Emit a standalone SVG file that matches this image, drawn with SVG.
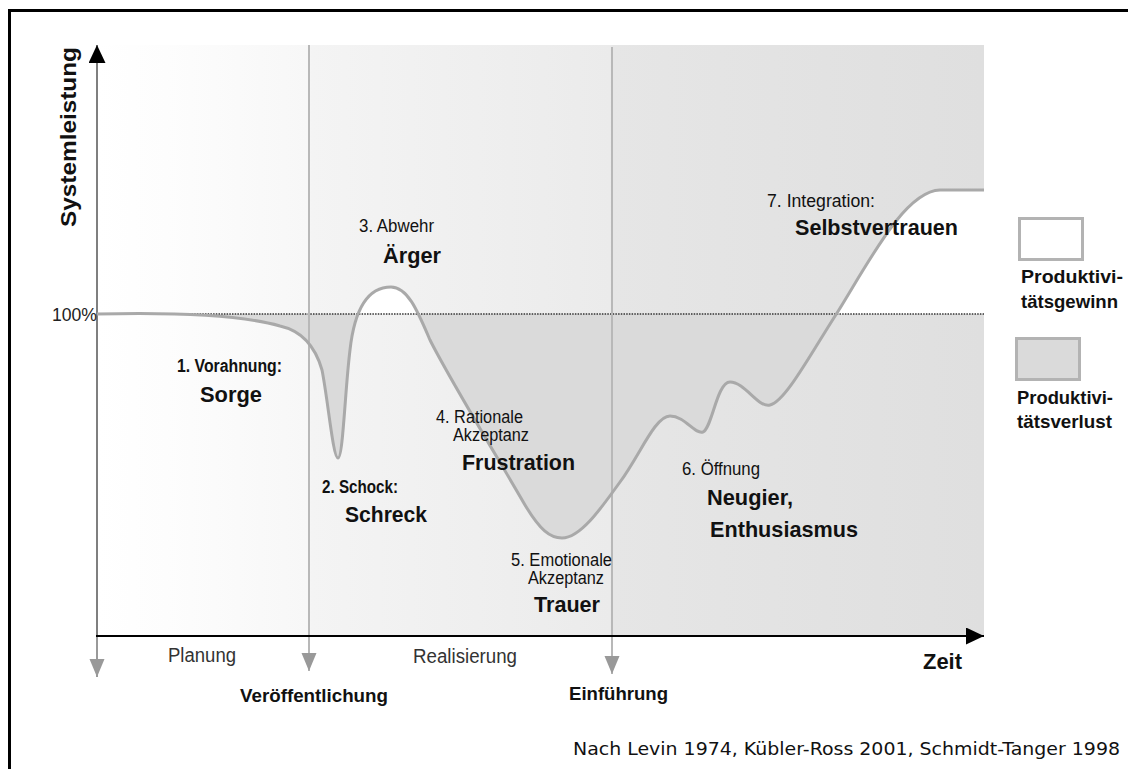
<svg xmlns="http://www.w3.org/2000/svg" width="1128" height="769" viewBox="0 0 1128 769">
<defs>
  <linearGradient id="bg" gradientUnits="userSpaceOnUse" x1="97" y1="0" x2="984" y2="0">
    <stop offset="0" stop-color="#ffffff"/>
    <stop offset="0.08" stop-color="#fdfdfd"/>
    <stop offset="0.238" stop-color="#f7f7f7"/>
    <stop offset="0.242" stop-color="#f4f4f4"/>
    <stop offset="0.578" stop-color="#ebebeb"/>
    <stop offset="0.582" stop-color="#e6e6e6"/>
    <stop offset="1" stop-color="#dfdfdf"/>
  </linearGradient>
  <marker id="greyArrow" markerUnits="userSpaceOnUse" markerWidth="19" markerHeight="16" refX="18" refY="7.5" orient="auto">
    <path d="M0,0 L18,7.5 L0,15 Z" fill="#999999"/>
  </marker>
  <marker id="blackArrow" markerUnits="userSpaceOnUse" markerWidth="19" markerHeight="18" refX="18" refY="8.5" orient="auto">
    <path d="M0,0 L18,8.5 L0,17 Z" fill="#000000"/>
  </marker>
  <clipPath id="below"><rect x="97" y="314" width="887" height="330"/></clipPath>
  <clipPath id="above"><rect x="97" y="40" width="887" height="274"/></clipPath>
  <path id="curveShape" d="M97,314 C180,312 245,316 280,326 C298,330 314,342 322,370 C328,400 333,458 338,458 C343,458 345,390 350,350 C355,305 370,287 391,287 C408,287 418,312 430,340 C450,380 505,470 525,505 C540,530 550,538 562,538 C580,538 600,510 620,482 C640,455 655,416 670,416 C685,416 695,435 703,432 C712,428 717,382 730,382 C745,382 758,408 770,405 C785,402 810,355 837,313 C870,260 905,191 940,190 L984,190"/>
  <style>
    .lbl { font-family: "Liberation Sans", Arial, sans-serif; fill: #111111; }
    .sm { font-size: 17.5px; }
    .smb { font-size: 17.5px; font-weight: bold; }
    .big { font-size: 21.5px; font-weight: bold; }
    .phase { font-size: 20px; fill: #333333; }
    .mile { font-size: 18.5px; font-weight: bold; }
    .leg { font-size: 18.5px; font-weight: bold; }
    .curve { fill: none; stroke: #a9a9a9; stroke-width: 3; }
    .vline { stroke: #b8b8b8; stroke-width: 2; fill: none; }
    .gain { fill: #ffffff; }
    .loss { fill: #dadada; }
  </style>
</defs>

<rect x="9.5" y="10.5" width="1130" height="770" fill="#ffffff" stroke="#000000" stroke-width="3"/>

<g id="plot-background">
  <rect x="97" y="45" width="887" height="590" fill="url(#bg)"/>
  <g clip-path="url(#below)">
    <path class="loss" d="M97,314 C180,312 245,316 280,326 C298,330 314,342 322,370 C328,400 333,458 338,458 C343,458 345,390 350,350 C355,305 370,287 391,287 C408,287 418,312 430,340 C450,380 505,470 525,505 C540,530 550,538 562,538 C580,538 600,510 620,482 C640,455 655,416 670,416 C685,416 695,435 703,432 C712,428 717,382 730,382 C745,382 758,408 770,405 C785,402 810,355 837,313 L837,314 Z"/>
  </g>
  <g clip-path="url(#above)">
    <path class="gain" d="M350,350 C355,305 370,287 391,287 C408,287 418,312 430,340 Z"/>
  </g>
  <path class="gain" d="M836,314 L837,313 C870,260 905,191 940,190 L984,190 L984,314 Z"/>
  <line x1="97" y1="314" x2="984" y2="314" stroke="#333333" stroke-width="1.5" stroke-dasharray="1.5,1.2"/>
</g>

<g id="connectors">
  <line class="vline" x1="309" y1="45" x2="309" y2="671" marker-end="url(#greyArrow)"/>
  <line class="vline" x1="612" y1="47" x2="612" y2="674" marker-end="url(#greyArrow)"/>
  <line x1="97" y1="635" x2="97" y2="677" stroke="#999999" stroke-width="2" marker-end="url(#greyArrow)"/>
  <line x1="97" y1="636" x2="97" y2="45" stroke="#7f7f7f" stroke-width="2" marker-end="url(#blackArrow)"/>
  <line x1="96" y1="636" x2="984" y2="636" stroke="#000000" stroke-width="2" marker-end="url(#blackArrow)"/>
</g>

<g id="curve">
  <use href="#curveShape" class="curve"/>
</g>

<g id="axis-labels" class="lbl">
  <text class="big" transform="translate(76,227) rotate(-90)" textLength="180" lengthAdjust="spacingAndGlyphs">Systemleistung</text>
  <text x="52" y="321" font-size="18" fill="#222222" textLength="45" lengthAdjust="spacingAndGlyphs">100%</text>
  <text class="big" x="923" y="669" textLength="39" lengthAdjust="spacingAndGlyphs">Zeit</text>
</g>

<g id="stage1" class="lbl">
  <text class="smb" x="177" y="372" textLength="105" lengthAdjust="spacingAndGlyphs">1. Vorahnung:</text>
  <text class="big" x="200" y="402" textLength="62" lengthAdjust="spacingAndGlyphs">Sorge</text>
</g>
<g id="stage2" class="lbl">
  <text class="smb" x="322" y="493" textLength="76" lengthAdjust="spacingAndGlyphs">2. Schock:</text>
  <text class="big" x="345" y="522" textLength="82" lengthAdjust="spacingAndGlyphs">Schreck</text>
</g>
<g id="stage3" class="lbl">
  <text class="sm" x="359" y="232" textLength="75" lengthAdjust="spacingAndGlyphs">3. Abwehr</text>
  <text class="big" x="383" y="263" textLength="58" lengthAdjust="spacingAndGlyphs">Ärger</text>
</g>
<g id="stage4" class="lbl">
  <text class="sm" x="436" y="423" textLength="87" lengthAdjust="spacingAndGlyphs">4. Rationale</text>
  <text class="sm" x="453" y="441" textLength="76" lengthAdjust="spacingAndGlyphs">Akzeptanz</text>
  <text class="big" x="462" y="470" textLength="113" lengthAdjust="spacingAndGlyphs">Frustration</text>
</g>
<g id="stage5" class="lbl">
  <text class="sm" x="511" y="566" textLength="101" lengthAdjust="spacingAndGlyphs">5. Emotionale</text>
  <text class="sm" x="528" y="584" textLength="76" lengthAdjust="spacingAndGlyphs">Akzeptanz</text>
  <text class="big" x="534" y="612" textLength="66" lengthAdjust="spacingAndGlyphs">Trauer</text>
</g>
<g id="stage6" class="lbl">
  <text class="sm" x="682" y="475" textLength="78" lengthAdjust="spacingAndGlyphs">6. Öffnung</text>
  <text class="big" x="707" y="505" textLength="86" lengthAdjust="spacingAndGlyphs">Neugier,</text>
  <text class="big" x="710" y="537" textLength="148" lengthAdjust="spacingAndGlyphs">Enthusiasmus</text>
</g>
<g id="stage7" class="lbl">
  <text class="sm" x="767" y="207" textLength="108" lengthAdjust="spacingAndGlyphs">7. Integration:</text>
  <text class="big" x="795" y="235" textLength="163" lengthAdjust="spacingAndGlyphs">Selbstvertrauen</text>
</g>

<g id="phases" class="lbl">
  <text class="phase" x="168" y="662" textLength="68" lengthAdjust="spacingAndGlyphs">Planung</text>
  <text class="phase" x="413" y="663" textLength="104" lengthAdjust="spacingAndGlyphs">Realisierung</text>
</g>
<g id="milestones" class="lbl">
  <text class="mile" x="240" y="702" textLength="148" lengthAdjust="spacingAndGlyphs">Veröffentlichung</text>
  <text class="mile" x="569" y="700" textLength="99" lengthAdjust="spacingAndGlyphs">Einführung</text>
</g>

<g id="legend-gain" class="lbl">
  <rect x="1019.5" y="218.5" width="63" height="41" fill="#ffffff" stroke="#b3b3b3" stroke-width="3"/>
  <text class="leg" x="1021" y="283" textLength="102" lengthAdjust="spacingAndGlyphs">Produktivi-</text>
  <text class="leg" x="1021" y="308" textLength="97" lengthAdjust="spacingAndGlyphs">tätsgewinn</text>
</g>
<g id="legend-loss" class="lbl">
  <rect x="1016.5" y="338.5" width="63" height="41" fill="#dadada" stroke="#b3b3b3" stroke-width="3"/>
  <text class="leg" x="1017" y="404" textLength="96" lengthAdjust="spacingAndGlyphs">Produktivi-</text>
  <text class="leg" x="1017" y="428" textLength="95" lengthAdjust="spacingAndGlyphs">tätsverlust</text>
</g>

<g id="source">
  <text x="573" y="755" font-family="'DejaVu Sans', Verdana, sans-serif" font-size="17" fill="#111111" textLength="547" lengthAdjust="spacingAndGlyphs">Nach Levin 1974, Kübler-Ross 2001, Schmidt-Tanger 1998</text>
</g>
</svg>
